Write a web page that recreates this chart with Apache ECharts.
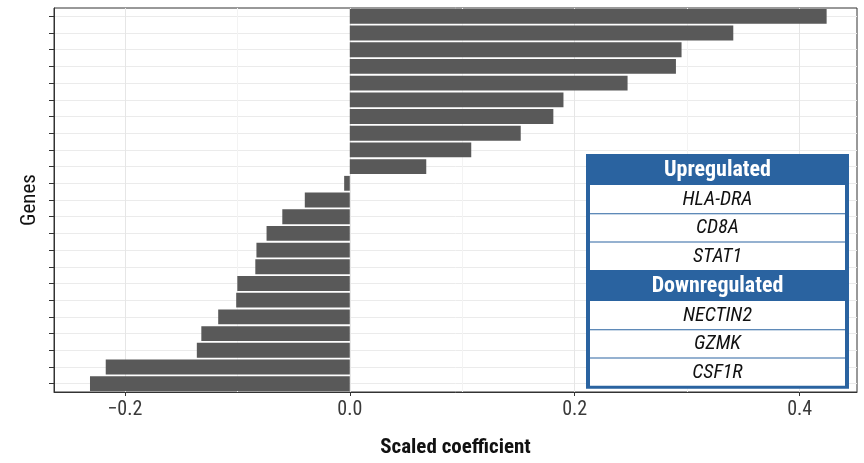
<!DOCTYPE html>
<html>
<head>
<meta charset="utf-8">
<script src="https://cdn.jsdelivr.net/npm/echarts@6/dist/echarts.min.js"></script>
<style>
  html, body { margin: 0; background: #fff; }
  #chart { width: 864px; height: 463px; }
</style>
</head>
<body>
<div id="chart"></div>
<script>
// genes, ordered top to bottom as in the plot (names are not shown on the axis)
const genes = ['g01', 'g02', 'g03', 'g04', 'g05', 'g06', 'g07', 'g08', 'g09', 'g10', 'g11', 'g12',
  'g13', 'g14', 'g15', 'g16', 'g17', 'g18', 'g19', 'g20', 'g21', 'g22', 'g23']
const coefficients = [0.424, 0.341, 0.295, 0.290, 0.247, 0.190, 0.181, 0.152, 0.108, 0.068,
  -0.005, -0.040, -0.060, -0.074, -0.083, -0.084, -0.100, -0.101, -0.117, -0.132, -0.136, -0.217, -0.231]
const xTicks = [-0.2, 0, 0.2, 0.4]
const xMinorTicks = [-0.1, 0.1, 0.3]
const upGenes = ['HLA-DRA', 'CD8A', 'STAT1']
const downGenes = ['NECTIN2', 'GZMK', 'CSF1R']

const FONT = '"Liberation Sans Narrow", "Roboto Condensed", "DejaVu Sans Condensed", sans-serif'
const BLUE = '#2a63a0'

// summary table in the lower right corner
function buildTable() {
  const x = 586, y = 154, w = 263, inset = 4
  const headH = 31, rowH = 28.3
  const els = [{
    type: 'rect', z: 100, shape: { x: x, y: y, width: w, height: 2 * headH + 6 * rowH + 3 },
    style: { fill: BLUE }
  }]
  let top = y
  ;[['Upregulated', upGenes], ['Downregulated', downGenes]].forEach(([title, list]) => {
    els.push({
      type: 'text', z: 102, x: x + w / 2, y: top + headH / 2 + 1,
      style: { text: title, fill: '#fff', font: 'bold 22px ' + FONT, align: 'center', verticalAlign: 'middle' }
    })
    top += headH
    list.forEach((g, i) => {
      els.push({
        type: 'rect', z: 101,
        shape: { x: x + inset, y: top + (i === 0 ? 0 : 1), width: w - 2 * inset, height: rowH - (i === 0 ? 0 : 1) },
        style: { fill: '#fff' }
      })
      els.push({
        type: 'text', z: 102, x: x + w / 2, y: top + rowH / 2 + 1,
        style: { text: g, fill: '#111', font: 'italic 20px ' + FONT, align: 'center', verticalAlign: 'middle' }
      })
      top += rowH
    })
  })
  return els
}

const chart = echarts.init(document.getElementById('chart'), null, { renderer: 'canvas' })
chart.setOption({
  animation: false,
  backgroundColor: '#fff',
  textStyle: { fontFamily: FONT },
  grid: {
    left: 54, right: 7, top: 8, bottom: 68,
    show: true, borderColor: '#333', borderWidth: 1
  },
  xAxis: [
    {
      type: 'value', min: -0.263, max: 0.451,
      name: 'Scaled coefficient', nameLocation: 'middle', nameGap: 45,
      nameTextStyle: { fontSize: 21, fontWeight: 'bold', color: '#111', fontFamily: FONT },
      axisLine: { show: true, onZero: false, lineStyle: { color: '#333' } },
      axisTick: { show: true, length: 4, customValues: xTicks, lineStyle: { color: '#333' } },
      axisLabel: {
        customValues: xTicks, fontSize: 20, color: '#3a3a3a', margin: 8, fontFamily: FONT,
        formatter: v => (v < 0 ? '\u2212' : '') + Math.abs(v).toFixed(1)
      },
      splitLine: { show: true, lineStyle: { color: '#e6e6e6', width: 1 } }
    },
    {
      type: 'value', min: -0.263, max: 0.451, position: 'top',
      axisLine: { show: false, onZero: false },
      axisTick: { show: false, customValues: xMinorTicks },
      axisLabel: { show: false },
      splitLine: { show: true, lineStyle: { color: '#f3f3f3', width: 1 } }
    }
  ],
  yAxis: [
    {
      type: 'category', data: genes, inverse: true, position: 'left',
      name: 'Genes', nameLocation: 'middle', nameGap: 14, nameRotate: 90,
      nameTextStyle: { fontSize: 21, color: '#111', fontFamily: FONT },
      axisLine: { show: true, onZero: false, lineStyle: { color: '#333' } },
      axisTick: { show: true, alignWithLabel: true, length: 5, lineStyle: { color: '#333' } },
      axisLabel: { show: false },
      splitLine: { show: false }
    },
    {
      type: 'value', min: -0.5, max: genes.length - 0.5, inverse: true, position: 'right',
      axisLine: { show: false, onZero: false },
      axisTick: { show: false, customValues: genes.map((g, i) => i) },
      axisLabel: { show: false },
      splitLine: { show: true, lineStyle: { color: '#ebebeb', width: 1 } }
    }
  ],
  series: [{
    type: 'bar',
    xAxisIndex: 0,
    yAxisIndex: 0,
    data: coefficients,
    barCategoryGap: '11%',
    itemStyle: { color: '#595959' },
    silent: true
  }],
  graphic: buildTable()
})
</script>
</body>
</html>
